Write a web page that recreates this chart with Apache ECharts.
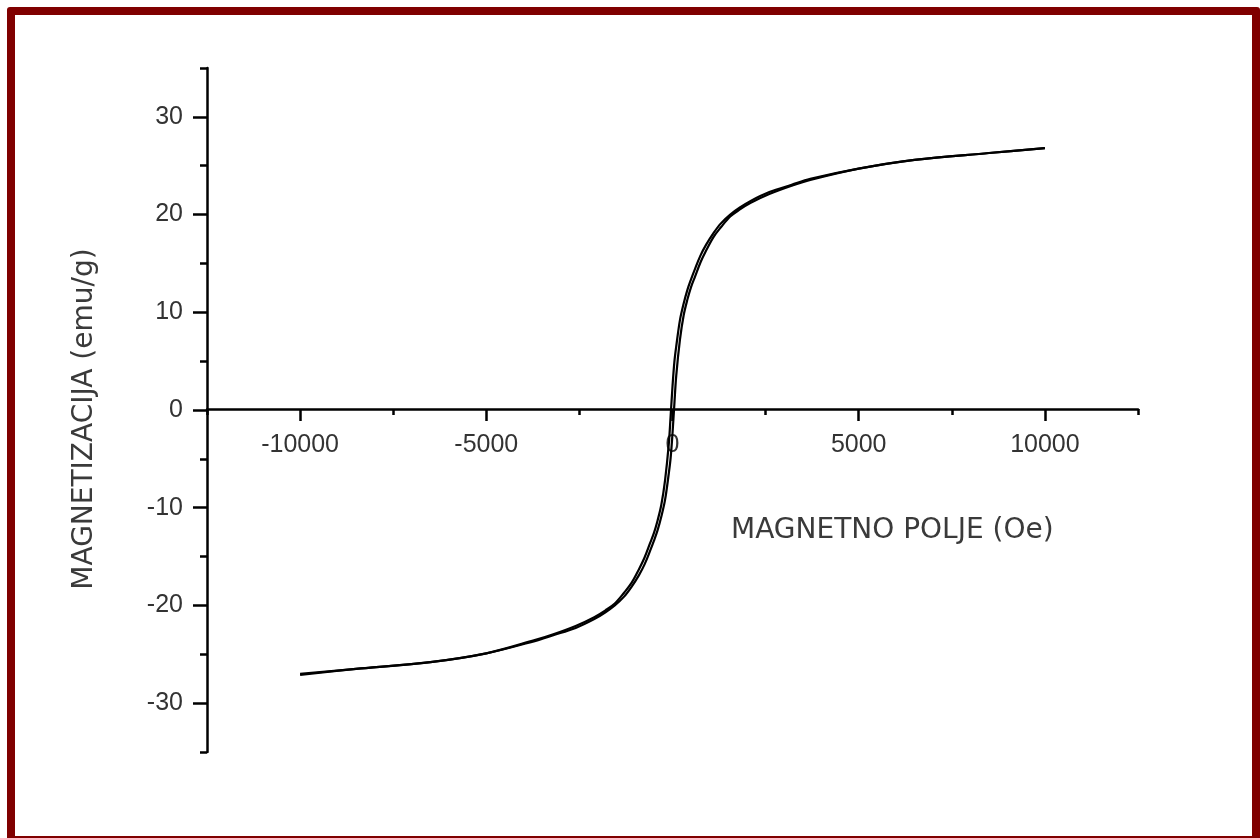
<!DOCTYPE html>
<html>
<head lang="en">
<meta charset="UTF-8">
<title>Histerezis</title>
<script type="text/javascript" src="https://cdn.jsdelivr.net/npm/echarts@6/dist/echarts.min.js"></script>
<style>
	html, body { margin: 0; padding: 0; background: #fff; overflow: hidden; width: 1260px; height: 838px; }
	#okvir { position: absolute; left: 7px; top: 7px; width: 1237px; height: 821px;
		border: 8px solid #800000; border-radius: 3px; }
	#graf { position: absolute; left: 0; top: 0; width: 1260px; height: 838px; }
</style>
</head>
<body>
	<div id="okvir"></div>
	<div id="graf"></div>
	<script type="text/javascript">
		// polje (Oe) - ista mreza za obe grane petlje
		var polje = [ -10000, -8500, -6500, -5000, -3700, -3200, -2600, -2100, -1800, -1550,
				-1300, -1100, -900, -750, -600, -500, -400, -300, -200, -100, -50, 0,
				50, 100, 200, 300, 400, 500, 600, 750, 900, 1100, 1300, 1550, 1800,
				2100, 2600, 3200, 3700, 5000, 6500, 8500, 10000 ];
		// rastuca grana (polje raste od -10000 ka +10000)
		var magRastuca = [ -27.1, -26.5, -25.8, -24.9, -23.65, -23.05, -22.3, -21.4, -20.7, -20.0,
				-19.1, -18.1, -16.9, -15.8, -14.4, -13.4, -12.3, -10.9, -9.2, -6.5, -4.9, -2.4,
				0.6, 3.5, 7.2, 9.7, 11.3, 12.6, 13.6, 15.1, 16.3, 17.7, 18.7, 19.8, 20.5,
				21.2, 22.1, 22.95, 23.55, 24.7, 25.6, 26.3, 26.8 ];
		// opadajuca grana (polje opada od +10000 ka -10000), vrednosti za isto polje
		var magOpadajuca = [ -27.0, -26.5, -25.8, -24.9, -23.55, -22.95, -22.1, -21.2, -20.5, -19.8,
				-18.7, -17.7, -16.3, -15.1, -13.6, -12.6, -11.3, -9.7, -7.2, -3.5, -0.6, 2.4,
				4.9, 6.5, 9.2, 10.9, 12.3, 13.4, 14.4, 15.8, 16.9, 18.1, 19.1, 20.0, 20.7,
				21.4, 22.3, 23.05, 23.65, 24.7, 25.6, 26.3, 26.8 ];
		var xOznake = [ -10000, -5000, 0, 5000, 10000 ];
		var yOznake = [ -30, -20, -10, 0, 10, 20, 30 ];

		var rastuca = polje.map(function(h, i) { return [ h, magRastuca[i] ]; });
		var opadajuca = polje.map(function(h, i) { return [ h, magOpadajuca[i] ]; });

		var font = 'Liberation Sans, Arial, sans-serif';
		var crna = { color : '#000', width : 2.5 };
		var oznaka = { fontFamily : font, fontSize : 25, color : '#333' };
		function broj(v) { return String(v); }

		var app = echarts.init(document.getElementById('graf'));
		var option = {
			backgroundColor : 'transparent',
			animation : false,
			title : {
				text : 'MAGNETNO POLJE (Oe)',
				left : 726,
				top : 512,
				textStyle : { fontFamily : 'DejaVu Sans', fontSize : 28, fontWeight : 'normal', color : '#3a3a3a' }
			},
			grid : [
				{ left : 207, top : 68, width : 931, height : 684, containLabel : false, outerBoundsMode : 'none' },
				// tanka mreza samo za x osu na nuli
				{ left : 207, top : 408, width : 931, height : 1, containLabel : false, outerBoundsMode : 'none' }
			],
			xAxis : [ {
				gridIndex : 0, type : 'value', min : -12500, max : 12500, show : false
			}, {
				gridIndex : 1, type : 'value', min : -12500, max : 12500, interval : 2500, position : 'bottom',
				axisLine : { onZero : false, lineStyle : crna },
				axisTick : { length : 6, lineStyle : crna },
				axisLabel : Object.assign({ customValues : xOznake, margin : 24, formatter : broj }, oznaka),
				splitLine : { show : false }
			}, {
				gridIndex : 1, type : 'value', min : -12500, max : 12500, position : 'bottom',
				axisLine : { show : false, onZero : false },
				axisTick : { customValues : xOznake, length : 12, lineStyle : crna },
				axisLabel : { show : false },
				splitLine : { show : false }
			} ],
			yAxis : [ {
				gridIndex : 0, type : 'value', min : -35, max : 35, interval : 5,
				name : 'MAGNETIZACIJA (emu/g)', nameLocation : 'middle', nameRotate : 90, nameGap : 108,
				nameTextStyle : { fontFamily : 'DejaVu Sans', fontSize : 28, color : '#3a3a3a', padding : [ 0, 18, 0, 0 ] },
				axisLine : { onZero : false, lineStyle : crna },
				axisTick : { length : 7, lineStyle : crna },
				axisLabel : Object.assign({ customValues : yOznake, margin : 24, formatter : broj }, oznaka),
				splitLine : { show : false }
			}, {
				gridIndex : 0, type : 'value', min : -35, max : 35, position : 'left',
				axisLine : { show : false, onZero : false },
				axisTick : { customValues : yOznake, length : 14, lineStyle : crna },
				axisLabel : { show : false },
				splitLine : { show : false }
			}, {
				gridIndex : 1, type : 'value', min : 0, max : 1, show : false
			} ],
			series : [ {
				name : 'rastuca', type : 'line', xAxisIndex : 0, yAxisIndex : 0,
				data : rastuca, smooth : 0.35, showSymbol : false,
				lineStyle : { color : '#000', width : 2.2 }
			}, {
				name : 'opadajuca', type : 'line', xAxisIndex : 0, yAxisIndex : 0,
				data : opadajuca, smooth : 0.35, showSymbol : false,
				lineStyle : { color : '#000', width : 2.2 }
			} ]
		};
		app.setOption(option);
	</script>
</body>
</html>
